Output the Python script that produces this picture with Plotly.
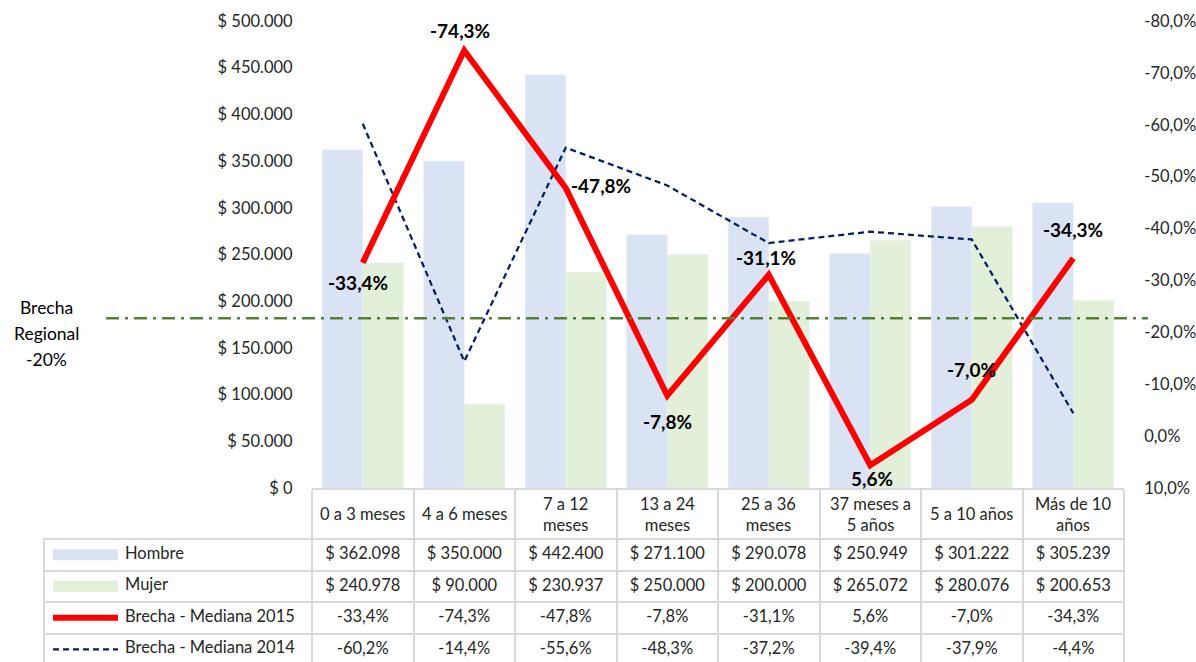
import plotly.graph_objects as go

# ---------------- data ----------------
categories = ["0 a 3 meses", "4 a 6 meses", "7 a 12 meses", "13 a 24 meses",
              "25 a 36 meses", "37 meses a 5 años", "5 a 10 años", "Más de 10 años"]
category_labels = ["0 a 3 meses", "4 a 6 meses", "7 a 12<br>meses", "13 a 24<br>meses",
                   "25 a 36<br>meses", "37 meses a<br>5 años", "5 a 10 años", "Más de 10<br>años"]
hombre = [362098, 350000, 442400, 271100, 290078, 250949, 301222, 305239]
mujer = [240978, 90000, 230937, 250000, 200000, 265072, 280076, 200653]
brecha_2015 = [-33.4, -74.3, -47.8, -7.8, -31.1, 5.6, -7.0, -34.3]
brecha_2014 = [-60.2, -14.4, -55.6, -48.3, -37.2, -39.4, -37.9, -4.4]
series_names = ["Hombre", "Mujer", "Brecha - Mediana 2015", "Brecha - Mediana 2014"]
left_ticks = [0, 50000, 100000, 150000, 200000, 250000, 300000, 350000, 400000, 450000, 500000]
right_ticks = [10, 0, -10, -20, -30, -40, -50, -60, -70, -80]
regional_label_lines = ["Brecha", "Regional", "-20%"]
regional_line_value = -22.7   # where the reference line is drawn on the right axis

# label offsets (px) for the 2015 data labels: (dx, dy) with dy positive = down
label_offsets_2015 = [(-5, 20), (-4, -20), (35, -3), (0, 26), (-3, -17), (2, 13), (0, -30), (0, -29)]

# ---------------- style ----------------
FONT = "Lato"
TXT = "#262626"
C_H = "#DAE3F3"
C_M = "#E2F0D9"
C_RED = "#FF0000"
C_NAVY = "#002060"
C_GREEN = "#548235"
C_GRID = "#D9D9D9"
FS = 16.5
PLOT_H = 641.0  # paper height (662 - top margin)


def fmt_money(v):
    return "$ " + f"{v:,.0f}".replace(",", ".")


def fmt_pct(v):
    return f"{v:.1f}%".replace(".", ",")


def py(pix):
    """pixel row -> paper fraction"""
    return (662 - pix) / PLOT_H


fig = go.Figure()

# bars
fig.add_trace(go.Bar(x=categories, y=hombre, name="Hombre", marker=dict(color=C_H),
                     xaxis="x", yaxis="y", showlegend=False, hoverinfo="skip"))
fig.add_trace(go.Bar(x=categories, y=mujer, name="Mujer", marker=dict(color=C_M),
                     xaxis="x", yaxis="y", showlegend=False, hoverinfo="skip"))

# lines on right axis
fig.add_trace(go.Scatter(x=categories, y=brecha_2014, mode="lines",
                         line=dict(color=C_NAVY, width=2.25, dash="6px,4px"),
                         xaxis="x", yaxis="y2", showlegend=False, hoverinfo="skip"))
fig.add_trace(go.Scatter(x=categories, y=brecha_2015, mode="lines",
                         line=dict(color=C_RED, width=6),
                         xaxis="x", yaxis="y2", showlegend=False, hoverinfo="skip"))

# data table geometry
TABLE_TOP = 539
ROW_H = 31.5
TABLE_VISIBLE_H = 662 - TABLE_TOP

# legend keys in the first table column
key_styles = [dict(color=C_H, width=11), dict(color=C_M, width=11),
              dict(color=C_RED, width=6), dict(color=C_NAVY, width=2.25, dash="6px,4px")]
KEY_X0, KEY_X1, LABEL_X = 9, 74, 81
for name, st in zip(series_names, key_styles):
    fig.add_trace(go.Scatter(x=[KEY_X0, KEY_X1], y=[name, name], mode="lines", line=st,
                             xaxis="x3", yaxis="y3", showlegend=False, hoverinfo="skip"))
fig.add_trace(go.Scatter(x=[LABEL_X] * len(series_names), y=series_names, text=series_names,
                         mode="text", textposition="middle right",
                         textfont=dict(family=FONT, size=FS, color=TXT),
                         xaxis="x3", yaxis="y3", showlegend=False, hoverinfo="skip",
                         cliponaxis=False))

transparent = "rgba(0,0,0,0)"
fills = [transparent] + ["white"] * len(categories)
fig.add_trace(go.Table(
    domain=dict(x=[0, 1], y=[0, py(TABLE_TOP)]),
    columnwidth=[268] + [101.5] * len(categories),
    header=dict(values=[""] + [fmt_money(v) for v in hombre],
                height=ROW_H, align="center",
                line=dict(color=C_GRID, width=2), fill=dict(color=fills),
                font=dict(family=FONT, size=FS, color=TXT)),
    cells=dict(values=[["", "", ""]] + [[fmt_money(m), fmt_pct(a), fmt_pct(b)]
                                        for m, a, b in zip(mujer, brecha_2015, brecha_2014)],
               height=ROW_H, align="center",
               line=dict(color=C_GRID, width=2), fill=dict(color=fills),
               font=dict(family=FONT, size=FS, color=TXT)),
))

annotations = [dict(x=c, y=py(514), xref="x", yref="paper", text=lab,
                    showarrow=False, xanchor="center", yanchor="middle",
                    font=dict(family=FONT, size=FS, color=TXT))
               for c, lab in zip(categories, category_labels)]
# data labels for the 2015 series
for c, v, (dx, dy) in zip(categories, brecha_2015, label_offsets_2015):
    annotations.append(dict(x=c, y=v, xref="x", yref="y2", text="<b>" + fmt_pct(v) + "</b>",
                            showarrow=False, xanchor="center", yanchor="middle",
                            xshift=dx, yshift=-dy,
                            font=dict(family=FONT, size=19, color="black")))
# regional gap label
for i, line in enumerate(regional_label_lines):
    annotations.append(dict(x=2 / 1080, y=py(307 + 26 * i), xref="paper", yref="paper",
                            text=line, showarrow=False, xanchor="center", yanchor="middle",
                            font=dict(family=FONT, size=17.5, color="black")))

fig.update_layout(
    width=1196, height=662,
    margin=dict(l=44, r=72, t=21, b=0, autoexpand=False),
    paper_bgcolor="white", plot_bgcolor="white",
    barmode="group", bargap=0.2, bargroupgap=0,
    font=dict(family=FONT, size=FS, color=TXT),
    showlegend=False,
    xaxis=dict(domain=[268 / 1080, 1], type="category", categoryarray=categories,
               showgrid=False, zeroline=False, showline=True, linecolor=C_GRID, linewidth=2,
               ticks="outside", tickson="boundaries", ticklen=52, tickwidth=2,
               tickcolor=C_GRID, showticklabels=False, anchor="y", automargin=False),
    yaxis=dict(domain=[py(488), 1], range=[0, 500000], showgrid=False,
               zeroline=False, showline=False, tickvals=left_ticks,
               ticktext=[fmt_money(v) for v in left_ticks], ticks="outside", ticklen=15,
               tickcolor="rgba(0,0,0,0)", tickfont=dict(family=FONT, size=FS, color=TXT),
               anchor="x", automargin=False),
    yaxis2=dict(overlaying="y", side="right", anchor="x", range=[10, -80], showgrid=False,
                zeroline=False, showline=False, tickvals=right_ticks,
                ticktext=[fmt_pct(v) for v in right_ticks], ticks="outside", ticklen=16,
                tickcolor="rgba(0,0,0,0)", tickfont=dict(family=FONT, size=FS, color=TXT),
                automargin=False),
    xaxis3=dict(domain=[0, 268 / 1080], range=[0, 268], visible=False, anchor="y3",
                fixedrange=True, automargin=False),
    yaxis3=dict(domain=[0, py(TABLE_TOP)], type="category",
                categoryarray=series_names, range=[-0.5 + TABLE_VISIBLE_H / ROW_H, -0.5],
                visible=False, anchor="x3", fixedrange=True, automargin=False),
    shapes=[dict(type="line", xref="paper", yref="y2", x0=62 / 1080, x1=1104 / 1080,
                 y0=regional_line_value, y1=regional_line_value,
                 line=dict(color=C_GREEN, width=2.5, dash="13px,6px,3px,6px"), layer="above")],
    annotations=annotations,
)

fig.write_html("out.html")
